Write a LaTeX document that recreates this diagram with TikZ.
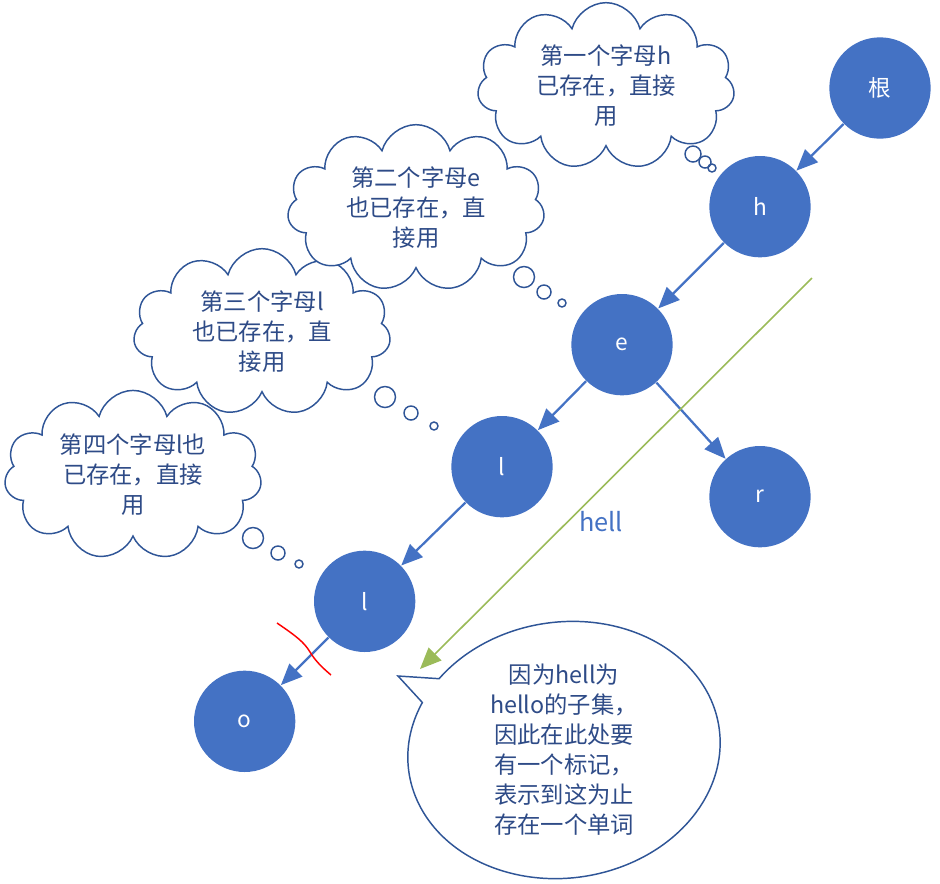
\documentclass[tikz,border=0pt]{standalone}
\usepackage{fontspec}
\newfontfamily\cjk{Noto Sans CJK SC}
\usetikzlibrary{arrows.meta,positioning,shapes.symbols,shapes.callouts}
\definecolor{nodeblue}{HTML}{4472C4}
\definecolor{lineblue}{HTML}{2F5597}
\definecolor{textblue}{HTML}{2E4B87}
\definecolor{hellgreen}{HTML}{9BBB59}

\begin{document}
\begin{tikzpicture}[
	x = 0.75pt, y = 0.75pt, % one unit = one pixel of the sketch
	> = {Triangle[length=16pt,width=13.5pt]}, % arrow head style
	on grid, % distances between node centres
	thick, % line style
	N/.style={circle, fill=nodeblue, inner sep=0pt, minimum size=76pt, text=white, font=\cjk\fontsize{17}{20}\selectfont},  %letter nodes
	C/.style={cloud, cloud puffs=11, aspect=1.6, draw=lineblue, line width=1.1pt, fill=white, inner sep=0pt, minimum width=193pt, minimum height=125pt, align=center, text=textblue, font=\cjk\fontsize{17.5}{22.5}\selectfont},  %thought clouds
	E/.style={draw=nodeblue, line width=1.7pt},
	]
	\useasboundingbox (0,0) rectangle (940,-883);

	% Thought clouds, lowest first
	\node[C] (c4) at (133,-475) {第四个字母l也\\已存在，直接\\用};
	\node[C] (c3) at (262,-332) {第三个字母l\\也已存在，直\\接用};
	\node[C] (c2) at (416,-208) {第二个字母e\\也已存在，直\\接用};
	\node[C] (c1) at (606,-86) {第一个字母h\\已存在，直接\\用};

	% Thought dots
	\foreach \x/\y/\r in {693/154/8, 705/162/6, 712/168/4,
	                      524/277/10.5, 544/292/7, 562/303/4,
	                      385/397/10.5, 411/413/7, 434/426/4,
	                      253/538/10.5, 278/553/7, 299/564/4}
		\draw[lineblue, line width=1.1pt] (\x,-\y) circle[radius=\r];

	% Nodes and their relative positions
	\node[N] (root) at (880,-88) {根};
	\node[N] (h)  [below left  = 89pt and 90pt of root] {h};
	\node[N] (e)  [below left  = 103.5pt and 103.5pt of h] {e};
	\node[N] (r)  [below right = 114pt and 103.5pt of e] {r};
	\node[N] (l1) [below left  = 91.5pt and 90pt of e] {l};
	\node[N] (l2) [below left  = 101pt and 103pt of l1] {l};
	\node[N] (o)  [below left  = 90pt and 90pt of l2] {o};

	% Paths connecting nodes
	\path[->] (root) edge[E] (h);
	\path[->] (h)    edge[E] (e);
	\path[->] (e)    edge[E] (l1);
	\path[->] (e)    edge[E] (r);
	\path[->] (l1)   edge[E] (l2);
	\path[->] (l2)   edge[E] (o);

	% Cut mark on the last edge
	\draw[red, line width=1.1pt] (277,-623) .. controls (296,-636) and (304,-642) .. (310,-652)
		.. controls (316,-662) and (324,-669) .. (331,-675);

	% The word hell
	\coordinate (hellfrom) at (812,-278);
	\coordinate (hellto)   at (420,-669);
	\draw[->, hellgreen, line width=1.2pt] (hellfrom) -- (hellto);
	\node[text=nodeblue, font=\cjk\fontsize{19}{22}\selectfont] (hell) at (601,-522) {hell};

	% Speech bubble
	\node[ellipse callout, draw=lineblue, line width=1.1pt, fill=white, minimum width=235pt, minimum height=192pt,
		callout absolute pointer={(398,-676)}, callout pointer arc=12, rotate=8] (bubble) at (564,-750) {};
	\node[align=center, text=textblue, font=\cjk\fontsize{17.5}{22.5}\selectfont] (note) at (bubble.center)
		{因为hell为\\hello的子集，\\因此在此处要\\有一个标记，\\表示到这为止\\存在一个单词};

\end{tikzpicture}
\end{document}
